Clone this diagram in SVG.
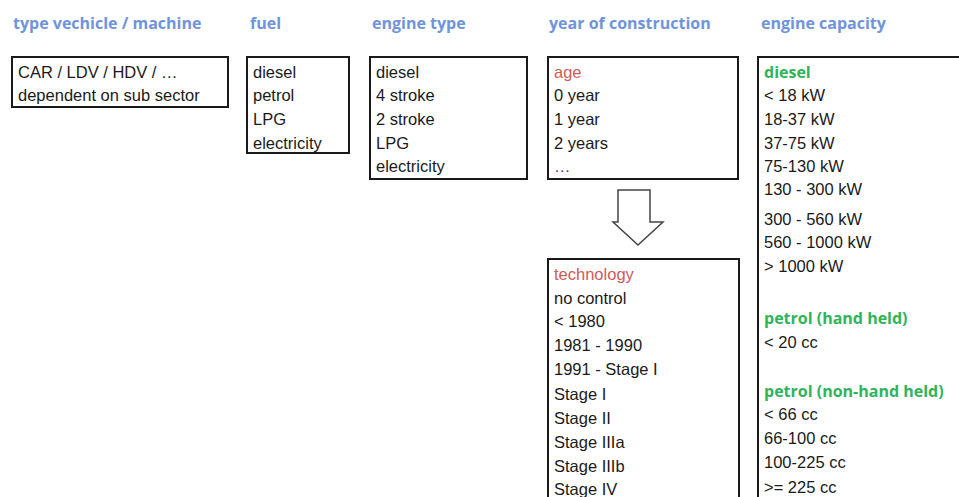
<svg xmlns="http://www.w3.org/2000/svg" width="959" height="497" viewBox="0 0 959 497">
<style>
.h{font-family:"Open Sans","Liberation Sans",sans-serif;font-weight:bold;font-size:16px;fill:#6f94dc}
.t{font-family:"Liberation Sans",Arial,sans-serif;font-size:16.5px;fill:#1a1a1a}
.r{fill:#d05a5a}
.g{fill:#2fb45a;font-family:"Open Sans","Liberation Sans",sans-serif;font-weight:bold;font-size:16px}
.b{fill:none;stroke:#1a1a1a;stroke-width:2}
</style>
<rect width="959" height="497" fill="#fff"/>
<g id="headers">
<text class="h" x="13" y="29">type vechicle / machine</text>
<text class="h" x="250" y="29">fuel</text>
<text class="h" x="372" y="29">engine type</text>
<text class="h" x="549" y="29">year of construction</text>
<text class="h" x="761" y="29">engine capacity</text>
</g>
<g id="vehicle">
<rect class="b" x="12" y="57" width="216" height="50"/>
<text class="t" x="18" y="78">CAR / LDV / HDV / …</text>
<text class="t" x="18" y="101">dependent on sub sector</text>
</g>
<g id="fuel">
<rect class="b" x="247" y="57" width="102" height="96"/>
<text class="t" x="253" y="78">diesel</text>
<text class="t" x="253" y="101">petrol</text>
<text class="t" x="253" y="125">LPG</text>
<text class="t" x="253" y="149">electricity</text>
</g>
<g id="enginetype">
<rect class="b" x="370" y="57" width="157" height="122"/>
<text class="t" x="376" y="78">diesel</text>
<text class="t" x="376" y="101">4 stroke</text>
<text class="t" x="376" y="125">2 stroke</text>
<text class="t" x="376" y="149">LPG</text>
<text class="t" x="376" y="172">electricity</text>
</g>
<g id="age">
<rect class="b" x="548" y="57" width="190" height="122"/>
<text class="t r" x="554" y="78">age</text>
<text class="t" x="554" y="101">0 year</text>
<text class="t" x="554" y="125">1 year</text>
<text class="t" x="554" y="149">2 years</text>
<text class="t" x="554" y="172" style="fill:#7a3070">…</text>
</g>
<g id="connectors">
<path d="M618,190 H650 V222 H663 L638,245 L613,222 H618 Z" fill="#fff" stroke="#444" stroke-width="1.5"/>
</g>
<g id="technology">
<rect class="b" x="548" y="259" width="191" height="250"/>
<text class="t r" x="554" y="280">technology</text>
<text class="t" x="554" y="304">no control</text>
<text class="t" x="554" y="327">&lt; 1980</text>
<text class="t" x="554" y="351">1981 - 1990</text>
<text class="t" x="554" y="375">1991 - Stage I</text>
<text class="t" x="554" y="400">Stage I</text>
<text class="t" x="554" y="424">Stage II</text>
<text class="t" x="554" y="448">Stage IIIa</text>
<text class="t" x="554" y="472">Stage IIIb</text>
<text class="t" x="554" y="495">Stage IV</text>
</g>
<g id="capacity">
<path class="b" d="M970,57 H758 V510"/>
<text class="g" x="764" y="78">diesel</text>
<text class="t" x="764" y="101">&lt; 18 kW</text>
<text class="t" x="764" y="125">18-37 kW</text>
<text class="t" x="764" y="149">37-75 kW</text>
<text class="t" x="764" y="172">75-130 kW</text>
<text class="t" x="764" y="195">130 - 300 kW</text>
<text class="t" x="764" y="225">300 - 560 kW</text>
<text class="t" x="764" y="248">560 - 1000 kW</text>
<text class="t" x="764" y="272">&gt; 1000 kW</text>
<text class="g" x="764" y="324">petrol (hand held)</text>
<text class="t" x="764" y="348">&lt; 20 cc</text>
<text class="g" x="764" y="397">petrol (non-hand held)</text>
<text class="t" x="764" y="420">&lt; 66 cc</text>
<text class="t" x="764" y="444">66-100 cc</text>
<text class="t" x="764" y="468">100-225 cc</text>
<text class="t" x="764" y="493">&gt;= 225 cc</text>
</g>
</svg>
